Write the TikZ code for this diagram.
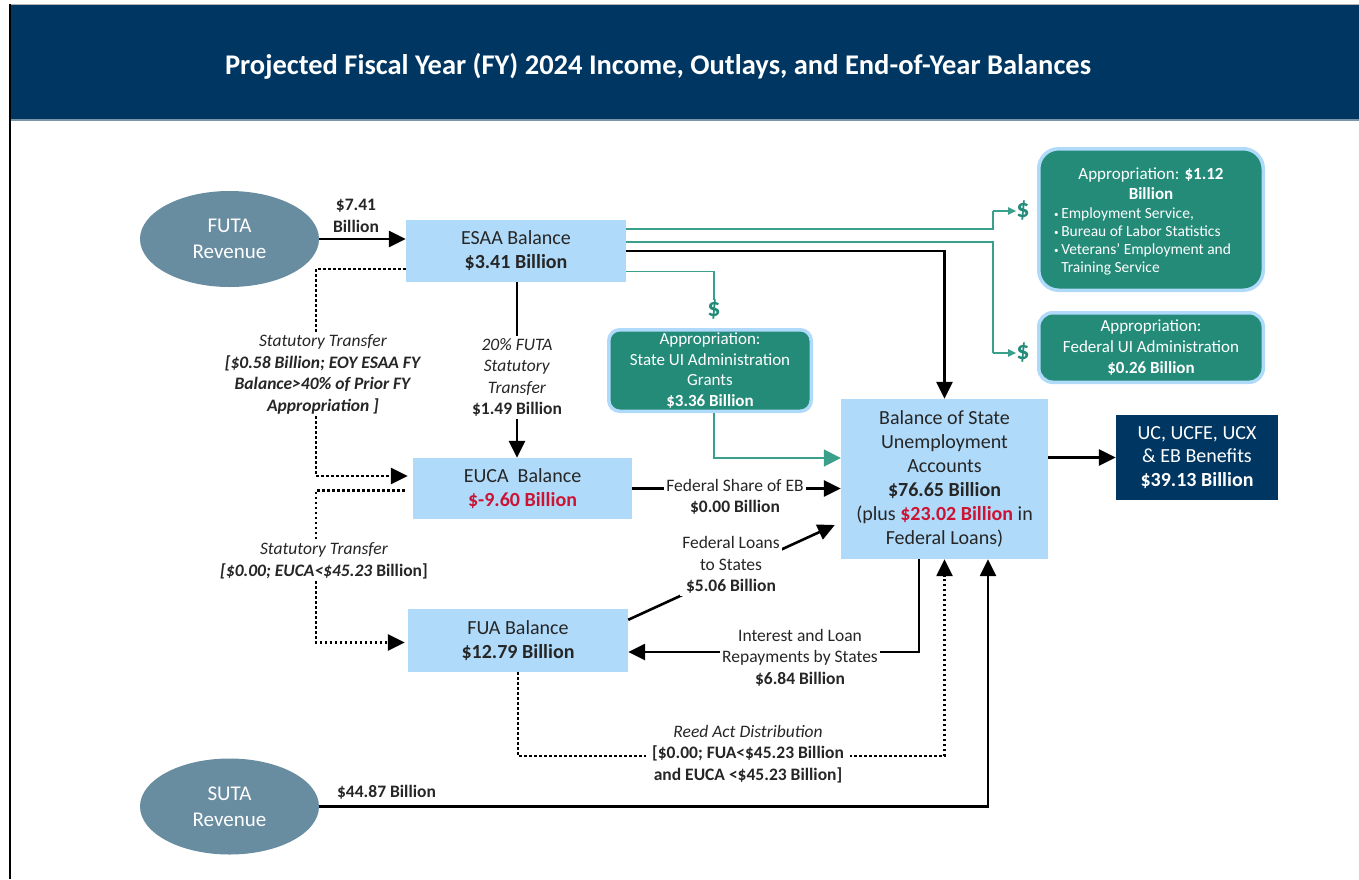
\documentclass[tikz,border=0pt]{standalone}
\usepackage{fontspec}
\setmainfont{Carlito}
\usetikzlibrary{arrows.meta,shapes.geometric}

\definecolor{navy}{RGB}{0,54,98}
\definecolor{boxblue}{RGB}{176,218,250}
\definecolor{revblue}{RGB}{104,140,160}
\definecolor{apprteal}{RGB}{35,139,120}
\definecolor{tealline}{RGB}{58,160,140}
\definecolor{lossred}{RGB}{204,20,50}
\definecolor{textgray}{RGB}{38,38,38}
\definecolor{slate}{RGB}{120,150,170}

\newcommand{\bul}{\raisebox{1.2pt}{\fontsize{9}{9}\selectfont\textbullet}\,}

\begin{document}
\begin{tikzpicture}[
  x=1pt, y=-1pt,
  >={Triangle[length=17pt,width=16pt]},
  every node/.style={inner sep=0pt, align=center, text=textgray},
  flow/.style={->, line width=2.6pt},
  plainflow/.style={line width=2.6pt},
  dotflow/.style={line width=2.6pt, dash pattern=on 2.4pt off 2.6pt},
  tealflow/.style={draw=tealline, line width=1.8pt},
  smalltip/.style={-{Triangle[length=8pt,width=7pt]}},
  revenue/.style={ellipse, fill=revblue, text=white, minimum width=179pt, minimum height=96pt, font=\fontsize{21}{26}\selectfont},
  balbox/.style={rectangle, fill=boxblue, font=\fontsize{20}{24}\selectfont},
  apprbox/.style={rectangle, fill=apprteal, draw=boxblue, line width=3.5pt, text=white, font=\fontsize{17}{20.7}\selectfont},
  benbox/.style={rectangle, fill=navy, text=white, font=\fontsize{20}{23.5}\selectfont},
  lbl/.style={fill=white, inner sep=2pt, font=\fontsize{17.5}{21.5}\selectfont},
  dollar/.style={text=apprteal, font=\bfseries\fontsize{26}{26}\selectfont}
]
  \useasboundingbox (0,0) rectangle (1359,879);

  % header band
  \fill[navy] (10,5) rectangle (1359,120);
  \draw[slate, line width=1.5pt] (10,120) -- (1359,120);
  \draw[gray!60, line width=1pt] (10,4) -- (1359,4);
  \draw[black, line width=1.5pt] (10,4) -- (10,879);
  \node[text=white, font=\bfseries\fontsize{28.5}{32}\selectfont] (title) at (658,66)
    {Projected Fiscal Year (FY) 2024 Income, Outlays, and End-of-Year Balances};

  % revenue sources
  \node[revenue] (futa) at (229.5,239) {FUTA\\Revenue};
  \node[revenue] (suta) at (229.5,806.5) {SUTA\\Revenue};

  % trust fund accounts
  \node[balbox, minimum width=220pt, minimum height=62pt] (esaa) at (516,251)
    {ESAA Balance\\\textbf{\$3.41 Billion}};
  \node[balbox, minimum width=219pt, minimum height=61pt] (euca) at (522.5,488.5)
    {EUCA\ \ Balance\\\textbf{\color{lossred}\$-9.60 Billion}};
  \node[balbox, minimum width=220pt, minimum height=63pt] (fua) at (518,640.5)
    {FUA Balance\\\textbf{\$12.79 Billion}};
  \node[balbox, minimum width=207pt, minimum height=160pt] (bal) at (944.5,479)
    {Balance of State\\Unemployment\\Accounts\\\textbf{\$76.65 Billion}\\(plus \textbf{\color{lossred}\$23.02 Billion} in\\Federal Loans)};
  \node[benbox, minimum width=162pt, minimum height=85pt] (uc) at (1197,457.5)
    {UC, UCFE, UCX\\\&~EB Benefits\\\textbf{\$39.13 Billion}};

  % appropriations
  \node[apprbox, rounded corners=11pt, minimum width=202.5pt, minimum height=81.5pt] (apprstate) at (710,370.5)
    {Appropriation:\\State UI Administration\\Grants\\\textbf{\$3.36 Billion}};
  \node[apprbox, rounded corners=20pt, minimum width=224.5pt, minimum height=141.5pt] (apprdol) at (1151,219.5) {};
  \node[text=white, font=\fontsize{17}{20}\selectfont] (apprdolhead) at (1151,184)
    {Appropriation: \textbf{\$1.12}\\\textbf{Billion}};
  \node[text=white, align=left, anchor=west, font=\fontsize{15.5}{17.8}\selectfont] (apprdollist) at (1054,241.5)
    {\bul Employment Service,\\\bul Bureau of Labor Statistics\\\bul Veterans’ Employment and\\\phantom{\bul}Training Service};
  \node[apprbox, rounded corners=14pt, minimum width=224.5pt, minimum height=69.5pt] (apprfed) at (1151,347.5)
    {Appropriation:\\Federal UI Administration\\\textbf{\$0.26 Billion}};

  \node[dollar] (dtop) at (1023,211) {\$};
  \node[dollar] (dfed) at (1023,353) {\$};
  \node[dollar] (dstate) at (714,310) {\$};

  % --- teal appropriation lines ---
  \coordinate (ttop) at (993,211);
  \coordinate (tfed) at (993,353);
  \draw[tealflow] ([yshift=22pt]esaa.east) -| (ttop);
  \draw[tealflow, smalltip] (ttop) -- (dtop.west);
  \draw[tealflow] ([yshift=9pt]esaa.east) -| (tfed);
  \draw[tealflow, smalltip] (tfed) -- (dfed.west);
  \draw[tealflow] ([yshift=-20.5pt]esaa.east) -| (dstate.north);
  \draw[tealflow, -{Triangle[length=17pt,width=17pt]}] ([xshift=4pt]apprstate.south) |- ([yshift=21pt]bal.west);

  % --- black flows ---
  \draw[flow] (futa) -- (futa -| esaa.west);
  \node[font=\bfseries\fontsize{17.5}{21.5}\selectfont] (futalbl) at (356,216) {\$7.41\\Billion};

  \draw[flow] (esaa.east) -| (bal.north);

  \node[lbl] (pctlbl) at (517,377.5)
    {\textit{20\% FUTA}\\\textit{Statutory}\\\textit{Transfer}\\\textbf{\$1.49 Billion}};
  \draw[plainflow] (esaa.south -| pctlbl) -- (pctlbl.north);
  \draw[flow] (pctlbl.south) -- (pctlbl.south |- euca.north);

  \draw[flow] (euca.east) -- (euca.east -| bal.west);
  \node[lbl] (eblbl) at (735,497) {Federal Share of EB\\\textbf{\$0.00 Billion}};

  \draw[flow] ([yshift=-11pt]fua.north east) -- ([xshift=-6pt,yshift=-46pt]bal.west);
  \node[lbl] (loanlbl) at (731,565) {Federal Loans\\to States\\\textbf{\$5.06 Billion}};

  \draw[flow] ([xshift=-25.5pt]bal.south) |- ([yshift=-11.5pt]fua.east);
  \node[lbl] (repaylbl) at (800,657.5) {Interest and Loan\\Repayments by States\\\textbf{\$6.84 Billion}};

  \draw[flow] (suta) -| ([xshift=43.5pt]bal.south);
  \node[font=\bfseries\fontsize{17.5}{21.5}\selectfont] (sutalbl) at (386.5,792) {\$44.87 Billion};

  \draw[flow] (bal.east |- uc.west) -- (uc.west);

  % --- dotted statutory transfers ---
  \node[lbl] (stat1) at (323,374.5)
    {\textit{Statutory Transfer}\\\textbf{\textit{[\$0.58 Billion; EOY ESAA FY}}\\\textbf{\textit{Balance>40\% of Prior FY}}\\\textbf{\textit{Appropriation ]}}};
  \draw[dotflow] ([yshift=-18pt]esaa.west) -| ([xshift=-7pt]stat1.north);
  \draw[dotflow, ->] ([xshift=-7pt]stat1.south) |- ([xshift=-5pt,yshift=12.5pt]euca.west);

  \node[lbl] (stat2) at (324,561)
    {\textit{Statutory Transfer}\\\textbf{\textit{[\$0.00; EUCA<\$45.23 }Billion]}};
  \draw[dotflow] ([xshift=-8pt,yshift=-2pt]euca.west) -| ([xshift=-8pt]stat2.north);
  \draw[dotflow, ->] ([xshift=-8pt]stat2.south) |- ([xshift=-3pt,yshift=-2pt]fua.west);

  % --- Reed Act ---
  \coordinate (reedturn) at (944.5,756);
  \draw[dotflow, ->] (fua.south) |- (reedturn) -- (bal.south);
  \node[lbl, inner xsep=6pt] (reedlbl) at (748,754)
    {\textit{Reed Act Distribution}\\\textbf{[\$0.00; FUA<\$45.23 Billion}\\\textbf{and EUCA <\$45.23 Billion]}};

\end{tikzpicture}
\end{document}
